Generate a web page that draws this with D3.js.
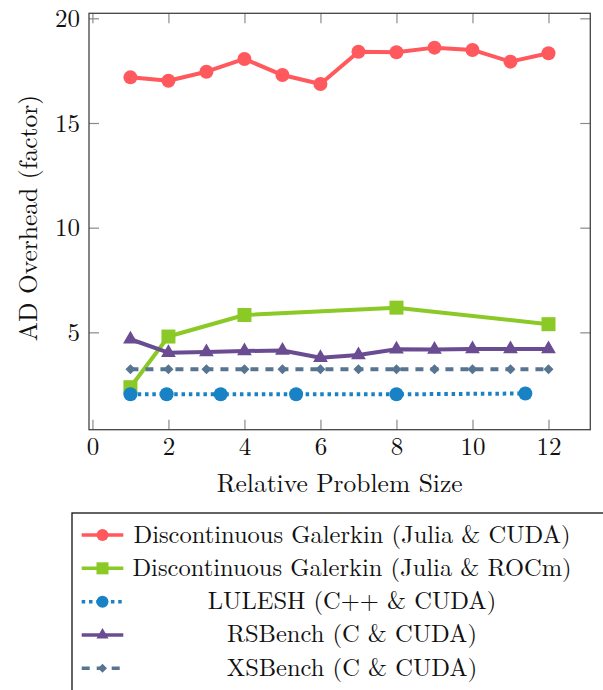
<!DOCTYPE html>
<html>
<head>
<meta charset="utf-8">
<script src="https://cdn.jsdelivr.net/npm/d3@7"></script>
<style>
  body { margin: 0; background: #fff; }
  svg { display: block; }
</style>
</head>
<body>
<svg id="chart" width="603" height="690"></svg>
<script>
// values
var sizeX = [1, 2, 3, 4, 5, 6, 7, 8, 9, 10, 11, 12];
var dgCuda = [17.18, 17.02, 17.45, 18.06, 17.29, 16.86, 18.40, 18.38, 18.60, 18.49, 17.93, 18.33];
var dgRocmX = [1, 2, 4, 8, 12];
var dgRocm = [2.38, 4.80, 5.83, 6.18, 5.39];
var luleshX = [1, 1.953, 3.375, 5.359, 8, 11.391];
var lulesh = [2.04, 2.04, 2.04, 2.04, 2.04, 2.08];
var rsbench = [4.67, 4.03, 4.06, 4.11, 4.13, 3.79, 3.92, 4.19, 4.18, 4.21, 4.21, 4.21];
var xsbench = [3.24, 3.24, 3.24, 3.24, 3.24, 3.24, 3.24, 3.24, 3.24, 3.24, 3.24, 3.24];
var xTicks = [0, 2, 4, 6, 8, 10, 12];
var yTicks = [5, 10, 15, 20];
var labels = ["Discontinuous Galerkin (Julia & CUDA)", "Discontinuous Galerkin (Julia & ROCm)",
  "LULESH (C++ & CUDA)", "RSBench (C & CUDA)", "XSBench (C & CUDA)"];

var series = [
  {name: labels[0], xs: sizeX, ys: dgCuda, color: "#ff595e", mark: "circle", dash: null},
  {name: labels[1], xs: dgRocmX, ys: dgRocm, color: "#8ac926", mark: "square", dash: null},
  {name: labels[2], xs: luleshX, ys: lulesh, color: "#1982c4", mark: "circle", dash: "3.5,3.8"},
  {name: labels[3], xs: sizeX, ys: rsbench, color: "#6a4c93", mark: "triangle", dash: null},
  {name: labels[4], xs: sizeX, ys: xsbench, color: "#577590", mark: "diamond", dash: "8,7"}
];

var FONT = "'Latin Modern Roman', 'Liberation Serif', serif";
var svg = d3.select("#chart");
var pLeft = 89, pTop = 13.3, pRight = 590.3, pBottom = 429.7;

var x = d3.scaleLinear().domain([-0.09, 13.1]).range([pLeft, pRight]);
var y = d3.scaleLinear().domain([0.35, 20.24]).range([pBottom, pTop]);

// axes, ticks pointing inwards on all four sides
var ax = svg.append("g");
ax.append("g").attr("transform", "translate(0," + pBottom + ")")
  .call(d3.axisBottom(x).tickValues(xTicks).tickSizeInner(-10).tickSizeOuter(0).tickPadding(7.5));
ax.append("g").attr("transform", "translate(0," + pTop + ")")
  .call(d3.axisTop(x).tickValues(xTicks).tickSizeInner(-10).tickSizeOuter(0).tickFormat(""));
ax.append("g").attr("transform", "translate(" + pLeft + ",0)")
  .call(d3.axisLeft(y).tickValues(yTicks).tickSizeInner(-10).tickSizeOuter(0).tickPadding(9));
ax.append("g").attr("transform", "translate(" + pRight + ",0)")
  .call(d3.axisRight(y).tickValues(yTicks).tickSizeInner(-10).tickSizeOuter(0).tickFormat(""));
ax.selectAll(".domain").remove();
ax.selectAll(".tick line").attr("stroke", "#8a8a8a").attr("stroke-width", 1.2);
ax.selectAll("g").attr("font-size", null).attr("font-family", null);
ax.selectAll("text").attr("fill", "#111").style("font-size", "25px").style("font-family", FONT);

svg.append("rect")
  .attr("x", pLeft).attr("y", pTop)
  .attr("width", pRight - pLeft).attr("height", pBottom - pTop)
  .attr("fill", "none").attr("stroke", "#444").attr("stroke-width", 1.3);

svg.append("text")
  .attr("x", (pLeft + pRight) / 2).attr("y", 491.5)
  .attr("text-anchor", "middle").attr("fill", "#111")
  .style("font-size", "25.5px").style("font-family", FONT)
  .text("Relative Problem Size");

svg.append("text")
  .attr("transform", "translate(37," + 218 + ")rotate(-90)")
  .attr("text-anchor", "middle").attr("fill", "#111")
  .style("font-size", "25.5px").style("font-family", FONT)
  .text("AD Overhead (factor)");

function drawMark(g, kind, color, s) {
  if (kind == "circle") {
    g.append("circle").attr("r", s).attr("fill", color);
  } else if (kind == "square") {
    g.append("rect").attr("x", -s).attr("y", -s).attr("width", 2 * s).attr("height", 2 * s).attr("fill", color);
  } else if (kind == "triangle") {
    var w = s * Math.sqrt(3) / 2;
    g.append("path").attr("d", "M0," + (-s) + "L" + w + "," + (s / 2) + "L" + (-w) + "," + (s / 2) + "Z").attr("fill", color);
  } else {
    g.append("path").attr("d", "M0," + (-s) + "L" + s + ",0L0," + s + "L" + (-s) + ",0Z").attr("fill", color);
  }
}

var markSize = {circle: 7, square: 7, triangle: 8.5, diamond: 5};
var legendSize = {circle: 6, square: 6, triangle: 7, diamond: 4.5};

var line = d3.line().x(function(d) { return x(d[0]); }).y(function(d) { return y(d[1]); });

series.forEach(function(s) {
  var pts = s.xs.map(function(v, i) { return [v, s.ys[i]]; });
  var g = svg.append("g");
  g.append("path")
    .attr("d", line(pts))
    .attr("fill", "none")
    .attr("stroke", s.color)
    .attr("stroke-width", 4)
    .attr("stroke-linejoin", "round")
    .attr("stroke-dasharray", s.dash);
  g.selectAll("g.m").data(pts).enter().append("g")
    .attr("class", "m")
    .attr("transform", function(d) { return "translate(" + x(d[0]) + "," + y(d[1]) + ")"; })
    .each(function() { drawMark(d3.select(this), s.mark, s.color, markSize[s.mark]); });
});

// legend, cut off by the page edge as in the reference
var lg = svg.append("g");
lg.append("rect")
  .attr("x", 72).attr("y", 513).attr("width", 560).attr("height", 200)
  .attr("fill", "#fff").attr("stroke", "#111").attr("stroke-width", 1.3);

var rowY = d3.scaleLinear().domain([0, 4]).range([535, 668.3]);
series.forEach(function(s, i) {
  var r = lg.append("g").attr("transform", "translate(0," + rowY(i) + ")");
  r.append("line")
    .attr("x1", 81.7).attr("x2", 123.3)
    .attr("stroke", s.color).attr("stroke-width", 3.5)
    .attr("stroke-dasharray", s.dash);
  var m = r.append("g").attr("transform", "translate(102.5,0)");
  drawMark(m, s.mark, s.color, legendSize[s.mark]);
  r.append("text")
    .attr("x", 352).attr("y", 7.5)
    .attr("text-anchor", "middle").attr("fill", "#111")
    .style("font-size", "24.5px").style("font-family", FONT)
    .text(s.name);
});
</script>
</body>
</html>
